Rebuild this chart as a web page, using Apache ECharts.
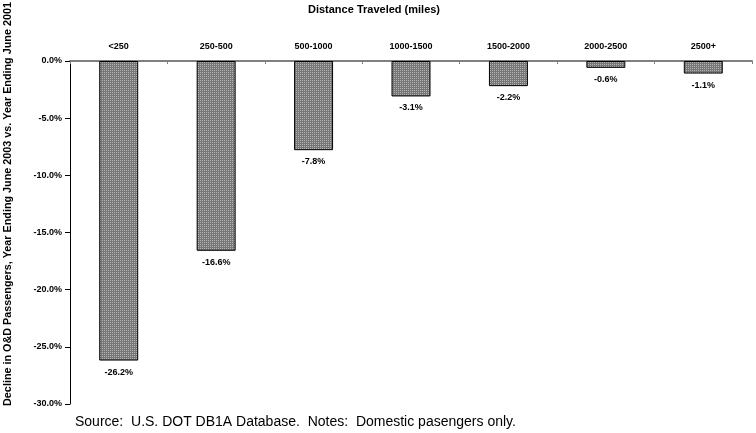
<!DOCTYPE html>
<html>
<head>
<meta charset="utf-8">
<script src="https://cdn.jsdelivr.net/npm/echarts@6/dist/echarts.min.js"></script>
<style>
  html, body { margin: 0; padding: 0; background: #fff; }
  #chart { width: 756px; height: 433px; }
</style>
</head>
<body>
<div id="chart"></div>
<script>
var categories = ['<250', '250-500', '500-1000', '1000-1500', '1500-2000', '2000-2500', '2500+'];
var declines = [-26.2, -16.6, -7.8, -3.1, -2.2, -0.6, -1.1];

// dotted gray fill like the original
function makePattern() {
    var c = document.createElement('canvas');
    c.width = 2; c.height = 2;
    var ctx = c.getContext('2d');
    ctx.fillStyle = '#767676';
    ctx.fillRect(0, 0, 2, 2);
    ctx.fillStyle = '#b4b4b4';
    ctx.fillRect(0, 0, 1, 1);
    return c;
}

var font = 'Liberation Sans, Arial, sans-serif';
var chart = echarts.init(document.getElementById('chart'));
var option = {
    animation: false,
    title: {
        text: 'Distance Traveled (miles)',
        left: 369,
        textAlign: 'center',
        top: -1,
        textStyle: { fontFamily: font, fontSize: 11, fontWeight: 'bold', color: '#000' }
    },
    grid: { left: 70, right: 4, top: 61, bottom: 29 },
    xAxis: {
        type: 'category',
        position: 'top',
        data: categories,
        axisLine: { onZero: true, lineStyle: { color: '#808080', width: 2 } },
        axisTick: { show: true, inside: true, length: 3, lineStyle: { color: '#808080' } },
        axisLabel: { margin: 10, fontFamily: font, fontSize: 9, fontWeight: 'bold', color: '#000' }
    },
    yAxis: {
        type: 'value',
        min: -30,
        max: 0,
        interval: 5,
        axisLine: { show: true, lineStyle: { color: '#000', width: 1 } },
        axisTick: { show: true, length: 5, lineStyle: { color: '#000' } },
        splitLine: { show: false },
        axisLabel: {
            margin: 8,
            fontFamily: font, fontSize: 9, fontWeight: 'bold', color: '#000',
            formatter: function (v) { return v.toFixed(1) + '%'; }
        }
    },
    graphic: [
        {
            type: 'text',
            x: 8, y: 204,
            rotation: Math.PI / 2,
            style: {
                text: 'Decline in O&D Passengers, Year Ending June 2003 vs. Year Ending June 2001',
                font: 'bold 10.8px ' + font,
                fill: '#000',
                align: 'center',
                verticalAlign: 'middle'
            }
        },
        {
            type: 'text',
            left: 75, top: 415,
            style: {
                text: 'Source:  U.S. DOT DB1A Database.  Notes:  Domestic pasengers only.',
                font: '14px ' + font,
                fill: '#000'
            }
        }
    ],
    series: [{
        type: 'bar',
        data: declines,
        barWidth: '40%',
        itemStyle: {
            color: { image: makePattern(), repeat: 'repeat' },
            borderColor: '#000',
            borderWidth: 1
        },
        label: {
            show: true,
            position: 'bottom',
            distance: 7,
            fontFamily: font, fontSize: 9, fontWeight: 'bold', color: '#000',
            formatter: function (p) { return p.value.toFixed(1) + '%'; }
        }
    }]
};
chart.setOption(option);
</script>
</body>
</html>
